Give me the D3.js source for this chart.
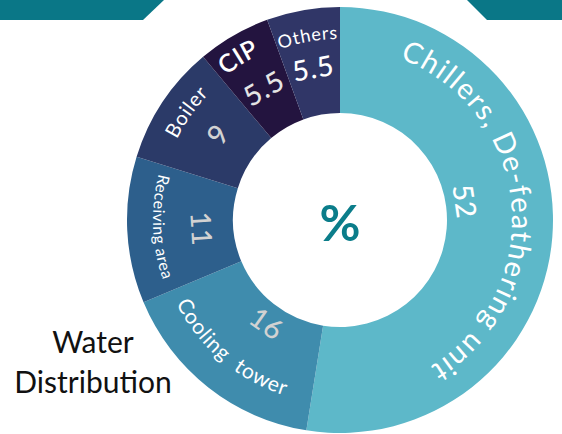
<!DOCTYPE html>
<html><head><meta charset="utf-8">
<script src="https://cdn.jsdelivr.net/npm/d3@7/dist/d3.min.js"></script>
<style>body{margin:0;background:#fff}svg{display:block}</style>
</head><body>
<svg id="chart" width="562" height="434"></svg>
<script>
// ---- data ----
const categories = ["Chillers, De-feathering unit", "Cooling  tower", "Receiving area", "Boiler", "CIP", "Others"];
const values = [52, 16, 11, 9, 5.5, 5.5];
const valueLabels = ["52", "16", "11", "9", "5.5", "5.5"];
const centerLabel = "%";
const sideLabel = ["Water", "Distribution"];

// ---- style ----
const palette = ["#5db8c9", "#3f8cad", "#2d5f8c", "#2b3a68", "#23143f", "#303667"];
const labelStyle = [
  {orient: "out", rb: 172, size: 29, ls: 1.5, weight: 400, color: "#fff", dA: -10, nr: 127, nA: -13, ncolor: "#fff"},
  {orient: "in",  rb: 184, size: 21, ls: 0.8, weight: 400, color: "#fff", dA: 2, nr: 126, nA: -3, ncolor: "#d2d2d2"},
  {orient: "in",  rb: 187, size: 16, ls: 0.5, weight: 400, color: "#fff", dA: 0.5, nr: 138, nA: -1, ncolor: "#d2d2d2"},
  {orient: "out", rb: 182, size: 20, ls: 0.8, weight: 400, color: "#fff", dA: 1.5, nr: 150, nA: 1.5, ncolor: "#d2d2d2"},
  {orient: "out", rb: 184, size: 25, ls: 0.5, weight: 600, color: "#fff", dA: -2, nr: 153, nA: 0, ncolor: "#e4e4e4"},
  {orient: "out", rb: 181, size: 18, ls: 0.8, weight: 400, color: "#fff", dA: 0, nr: 155, nA: 0, ncolor: "#fff"}
];
const font = "Lato, 'DejaVu Sans', sans-serif";

const svg = d3.select("#chart");
const cx = 340, cy = 220, rOuter = 213, rInner = 107;

// top banner
svg.append("path").attr("d", "M0,0 L164,0 L143,20 L0,20 Z").attr("fill", "#0a7787");
svg.append("path").attr("d", "M467,0 L562,0 L562,20 L487,20 Z").attr("fill", "#0a7787");

const data = categories.map((c, i) => ({cat: c, value: values[i], label: valueLabels[i], i}));
const pie = d3.pie().value(d => d.value).sort(null).startAngle(0).endAngle(2 * Math.PI);
const arcs = pie(data);
const arc = d3.arc().innerRadius(rInner).outerRadius(rOuter);

const g = svg.append("g").attr("transform", `translate(${cx},${cy})`);
g.selectAll("path.slice").data(arcs).join("path")
  .attr("class", "slice")
  .attr("d", arc)
  .attr("fill", d => palette[d.data.i]);

const defs = svg.append("defs");
const rad = Math.PI / 180;
function pt(r, a) { return [r * Math.sin(a), -r * Math.cos(a)]; }

arcs.forEach((d, k) => {
  const s = labelStyle[k];
  const mid = (d.startAngle + d.endAngle) / 2 + s.dA * rad;
  const span = 85 * rad;
  let p;
  if (s.orient === "out") {
    const [x0, y0] = pt(s.rb, mid - span), [x1, y1] = pt(s.rb, mid + span);
    p = `M${x0},${y0} A${s.rb},${s.rb} 0 0 1 ${x1},${y1}`;
  } else {
    const [x0, y0] = pt(s.rb, mid + span), [x1, y1] = pt(s.rb, mid - span);
    p = `M${x0},${y0} A${s.rb},${s.rb} 0 0 0 ${x1},${y1}`;
  }
  defs.append("path").attr("id", "lp" + k).attr("d", p);
  g.append("text")
    .attr("font-family", font).attr("font-size", s.size).attr("font-weight", s.weight)
    .attr("letter-spacing", s.ls)
    .attr("fill", s.color)
    .append("textPath").attr("href", "#lp" + k).attr("startOffset", "50%")
    .attr("text-anchor", "middle")
    .style("white-space", "pre")
    .text(d.data.cat);

  const na = (d.startAngle + d.endAngle) / 2 + s.nA * rad;
  const [nx, ny] = pt(s.nr, na);
  const rot = s.orient === "out" ? na / rad : na / rad - 180;
  g.append("text")
    .attr("transform", `translate(${nx},${ny}) rotate(${rot})`)
    .attr("text-anchor", "middle").attr("dominant-baseline", "central")
    .attr("font-family", font).attr("font-size", 28).attr("font-weight", 500)
    .attr("letter-spacing", 1)
    .attr("fill", s.ncolor)
    .text(d.data.label);
});

g.append("text").attr("text-anchor", "middle").attr("dominant-baseline", "central")
  .attr("y", 2)
  .attr("font-family", font).attr("font-size", 50).attr("font-weight", 700)
  .attr("fill", "#0b7d8a").text(centerLabel);

svg.append("g").selectAll("text").data(sideLabel).join("text")
  .attr("x", 93).attr("y", (d, i) => 353 + i * 40)
  .attr("text-anchor", "middle")
  .attr("font-family", font).attr("font-size", 30).attr("fill", "#111")
  .text(d => d);
</script>
</body></html>
